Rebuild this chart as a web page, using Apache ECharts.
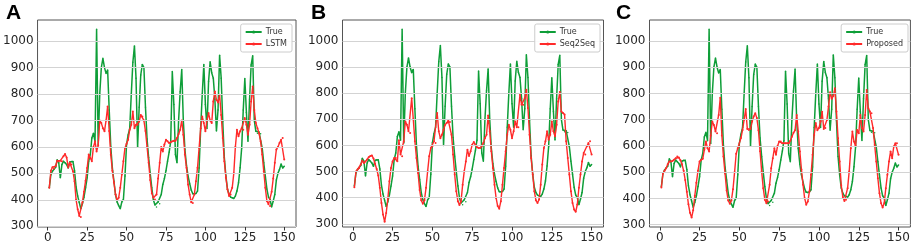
<!DOCTYPE html>
<html>
<head>
<meta charset="utf-8">
<script src="https://cdn.jsdelivr.net/npm/echarts@6/dist/echarts.min.js"></script>
<style>
  html, body { margin: 0; padding: 0; background: #fff; }
  #chart { width: 913px; height: 245px; }
</style>
</head>
<body>
<div id="chart"></div>
<script>
// observed load (same in all three panels)
var trueLoad = [445,495,508,515,523,551,540,483,533,546,540,533,520,543,545,545,510,448,414,390,
  366,385,410,445,483,546,571,634,652,620,1045,609,800,900,935,900,878,891,740,600,
  520,470,420,392,378,366,392,401,490,610,645,670,800,920,982,860,600,750,872,912,
  900,750,630,560,500,445,400,380,373,392,385,420,458,480,510,546,580,620,885,760,
  571,540,700,809,893,700,590,530,490,462,437,423,422,424,433,520,670,800,912,760,
  670,847,922,880,860,780,660,740,947,860,696,560,490,440,420,410,408,405,414,433,
  464,521,596,740,859,730,621,780,910,945,700,659,652,656,650,596,540,490,440,410,
  401,373,395,420,475,500,515,535,520,527];

var lstmPred = [445,510,523,518,527,548,546,548,546,565,573,560,522,540,533,508,470,400,364,339,
  335,390,430,472,520,571,558,546,600,621,583,605,700,690,671,659,700,753,660,570,
  510,465,420,398,408,445,496,546,596,612,627,665,684,734,671,684,684,696,721,715,
  700,660,600,540,475,425,408,401,420,480,540,600,583,609,627,621,615,618,621,623,
  623,634,649,665,700,646,571,521,458,420,391,388,420,470,521,596,671,715,690,659,
  700,728,700,690,772,810,778,768,797,721,634,546,483,439,414,420,445,500,600,665,
  640,659,671,665,709,684,646,684,772,828,740,690,671,652,621,571,508,445,395,383,
  376,430,480,540,590,600,615,627,634,552];

var seq2seqPred = [440,500,508,514,527,542,533,539,546,555,560,562,550,530,510,485,438,380,336,308,
  342,395,463,514,539,552,552,540,620,565,559,616,692,679,654,648,781,700,616,552,
  495,430,390,377,390,438,501,559,590,597,616,609,724,654,628,641,660,679,686,695,
  690,641,565,489,425,387,372,387,450,501,539,584,560,578,603,613,603,593,590,590,
  597,609,628,641,715,654,578,514,450,399,368,358,387,450,514,578,641,679,660,628,
  654,692,670,670,794,756,756,781,813,743,641,552,489,425,390,380,393,450,527,590,
  616,654,622,641,692,654,635,679,768,805,730,724,718,616,552,489,425,380,355,346,
  374,438,489,539,571,565,597,609,616,565];

var proposedPred = [442,495,505,515,530,541,541,543,547,553,560,556,545,530,505,470,425,378,345,327,
  355,410,460,505,541,547,551,585,617,591,579,640,693,680,655,648,718,784,640,560,
  495,430,392,380,392,435,500,570,591,598,630,661,700,741,665,661,665,693,712,725,
  706,660,580,503,439,395,382,388,452,515,553,591,566,600,617,617,610,610,610,610,
  610,620,635,650,660,718,655,579,510,452,401,376,388,426,490,566,642,687,660,668,
  693,730,665,668,699,750,805,780,790,820,731,629,541,450,405,390,395,439,503,591,
  655,617,600,661,648,718,668,655,718,813,744,731,725,668,604,541,477,420,382,365,
  382,439,490,541,579,553,598,610,610,566];

var xTicks = [0, 25, 50, 75, 100, 125, 150];
var yTicks = [300, 400, 500, 600, 700, 800, 900, 1000];
var panelLetters = ['A', 'B', 'C'];
var modelNames = ['LSTM', 'Seq2Seq', 'Proposed'];

var GREEN = '#0e9e38';
var RED = '#ff2a2a';

var chart = echarts.init(document.getElementById('chart'));

var panels = [
  {left: 37,  width: 259, ymin: 297, ymax: 1080, legendRight: 621, pred: lstmPred},
  {left: 342.5, width: 261, ymin: 288, ymax: 1080, legendRight: 313, pred: seq2seqPred},
  {left: 649.5, width: 261, ymin: 291, ymax: 1080, legendRight: 5, pred: proposedPred}
];

function toPoints(arr) {
  return arr.map(function(v, i) { return [i + 1, v]; });
}

function plain(v) { return String(v); }

var grids = [], xAxes = [], yAxes = [], series = [], legends = [], titles = [];

panels.forEach(function(p, k) {
  grids.push({left: p.left, width: p.width, top: 20, height: 207,
    show: true, borderColor: '#555', borderWidth: 1, backgroundColor: '#fff'});
  xAxes.push({
    type: 'value', gridIndex: k, min: -6.45, max: 157.45,
    axisLine: {show: false},
    axisTick: {show: true, length: 3.5, inside: false, customValues: xTicks, lineStyle: {color: '#333'}},
    axisLabel: {customValues: xTicks, formatter: plain, fontSize: 12, color: '#262626', margin: 5, fontFamily: 'DejaVu Sans'},
    splitLine: {show: false}
  });
  yAxes.push({
    type: 'value', gridIndex: k, min: p.ymin, max: p.ymax,
    axisLine: {show: false},
    axisTick: {show: true, length: 3.5, inside: false, customValues: yTicks, lineStyle: {color: '#333'}},
    axisLabel: {customValues: yTicks, formatter: plain, fontSize: 12, color: '#262626', margin: 4, fontFamily: 'DejaVu Sans'},
    splitLine: {show: false}
  });
  // horizontal grid lines
  series.push({
    type: 'line', xAxisIndex: k, yAxisIndex: k, data: [], silent: true, z: 1,
    markLine: {
      silent: true, symbol: 'none', label: {show: false},
      lineStyle: {color: '#d3d3d3', type: 'solid', width: 1.2},
      data: yTicks.map(function(t) { return {yAxis: t}; })
    }
  });
  series.push({
    name: 'True', type: 'line', xAxisIndex: k, yAxisIndex: k, z: 3,
    data: toPoints(trueLoad), symbol: 'circle', symbolSize: 1.5, showSymbol: true,
    lineStyle: {color: GREEN, width: 1.5}, itemStyle: {color: GREEN}, animation: false
  });
  series.push({
    name: modelNames[k], type: 'line', xAxisIndex: k, yAxisIndex: k, z: 4,
    data: toPoints(p.pred), symbol: 'circle', symbolSize: 2, showSymbol: true,
    lineStyle: {color: RED, width: 1.4}, itemStyle: {color: RED}, animation: false
  });
  legends.push({
    data: ['True', modelNames[k]], orient: 'vertical', right: p.legendRight, top: 24, z: 10,
    itemWidth: 16, itemHeight: 4, itemGap: 4, padding: [4, 5, 4, 4],
    borderColor: '#cccccc', borderWidth: 1, borderRadius: 2, backgroundColor: 'rgba(255,255,255,0.9)',
    textStyle: {fontSize: 8, color: '#333', fontFamily: 'DejaVu Sans', padding: [0, 0, 0, -1]},
    selectedMode: false
  });
  titles.push({
    text: panelLetters[k], left: [1, 306, 611][k], top: -2,
    textStyle: {fontSize: 21, fontWeight: 'bold', color: '#000', fontFamily: 'Liberation Sans'}
  });
});

var option = {
  animation: false,
  title: titles,
  legend: legends,
  grid: grids,
  xAxis: xAxes,
  yAxis: yAxes,
  series: series
};
chart.setOption(option);
</script>
</body>
</html>
